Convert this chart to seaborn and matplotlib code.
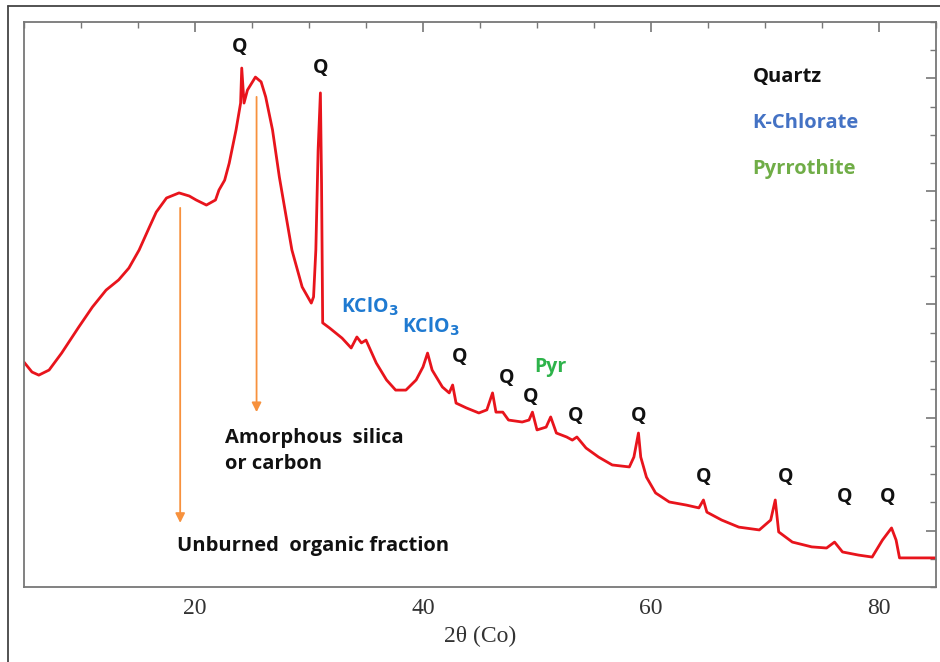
"""
XRD pattern of the burned sample (Co radiation) with phase labels
"""

import numpy as np
import pandas as pd
import matplotlib.pyplot as plt
import seaborn as sns
from matplotlib.lines import Line2D
from matplotlib.ticker import MultipleLocator, FixedLocator

# Data
two_theta = [5.0, 5.7, 6.3, 7.2, 8.3, 9.8, 11.0, 12.2, 13.3, 14.2, 15.1, 16.0,
             16.6, 17.5, 18.6, 19.5, 20.1, 21.0, 21.8, 22.1, 22.6, 23.0, 23.6,
             24.0, 24.1, 24.3, 24.6, 25.3, 25.8, 26.2, 26.8, 27.4, 28.0, 28.5,
             29.4, 30.2, 30.4, 30.6, 30.8, 31.0, 31.1, 31.2, 31.8, 32.9, 33.7,
             34.2, 34.6, 35.0, 35.9, 36.8, 37.6, 38.5, 39.4, 40.0, 40.4, 40.8,
             41.7, 42.3, 42.6, 42.9, 43.8, 44.9, 45.6, 46.1, 46.4, 47.0, 47.5,
             48.7, 49.3, 49.6, 50.0, 50.8, 51.2, 51.7, 52.6, 53.1, 53.5, 54.3,
             55.4, 56.6, 58.1, 58.5, 58.9, 59.1, 59.6, 60.4, 61.6, 63.1, 64.2,
             64.6, 64.9, 66.2, 67.7, 69.5, 70.5, 70.9, 71.2, 72.4, 74.1, 75.4,
             76.1, 76.8, 78.2, 79.4, 80.3, 81.1, 81.5, 81.8, 83.2, 85.0]
intensity = [796, 761, 750, 768, 828, 920, 991, 1051, 1087, 1129, 1193, 1274,
             1327, 1377, 1395, 1384, 1370, 1352, 1370, 1405, 1440, 1500, 1618,
             1713, 1837, 1713, 1759, 1805, 1788, 1735, 1618, 1451, 1310, 1193,
             1062, 1005, 1027, 1193, 1547, 1749, 1430, 935, 917, 881, 846,
             885, 864, 874, 793, 733, 697, 697, 733, 779, 828, 768,
             708, 687, 715, 651, 634, 616, 627, 687, 619, 619, 591,
             584, 591, 619, 556, 566, 602, 545, 531, 520, 531, 492,
             460, 432, 425, 460, 545, 460, 389, 333, 301, 290, 280,
             308, 265, 237, 212, 202, 237, 308, 195, 159, 142, 138,
             159, 124, 113, 106, 166, 209, 166, 103, 103, 103]

# peak labels
q_x = [23.9, 31.0, 43.2, 47.3, 49.4, 53.4, 58.9, 64.6, 71.8, 77.0, 80.8]
q_y = [1912, 1837, 814, 740, 673, 605, 605, 389, 389, 319, 319]
kclo3_x = [35.3, 40.7]
kclo3_y = [991, 920]
pyr_xy = (51.2, 779)

legend_labels = ["Quartz", "K-Chlorate", "Pyrrothite"]
legend_colors = ["#111111", "#4472c4", "#70ad47"]
legend_y = [1805, 1642, 1480]

# arrows: x, start y, end y
arrow_x = [18.7, 25.4]
arrow_y0 = [1342, 1735]
arrow_y1 = [227, 619]

sns.set_style("white")
plt.rcParams['font.family'] = ['Open Sans', 'DejaVu Sans']

fig = plt.figure(figsize=(9.4, 6.62), dpi=100)
ax = fig.add_axes([24 / 940, 75 / 662, 912 / 940, 565 / 662])

df = pd.DataFrame({"two_theta": two_theta, "intensity": intensity})
sns.lineplot(data=df, x="two_theta", y="intensity", ax=ax, color="#e8141c",
             linewidth=2.0, estimator=None, sort=False)

ax.set_xlim(5, 85)
ax.set_ylim(0, 2000)
ax.xaxis.set_major_locator(FixedLocator([20, 40, 60, 80]))
ax.xaxis.set_minor_locator(MultipleLocator(5))
ax.yaxis.set_major_locator(FixedLocator([200, 600, 1000, 1400, 1800]))
ax.yaxis.set_minor_locator(MultipleLocator(100))
ax.tick_params(which="both", direction="in", top=True, right=True,
               color="#777777", labelleft=False)
ax.tick_params(which="major", length=7, width=1.2, pad=8)
ax.tick_params(which="minor", length=4, width=1.0)
for lbl in ax.get_xticklabels():
    lbl.set_family("Liberation Serif")
    lbl.set_fontsize(17)
    lbl.set_color("#333333")
for s in ax.spines.values():
    s.set_color("#777777")
    s.set_linewidth(1.3)

ax.set_xlabel("2θ (Co)", family="Liberation Serif", fontsize=17,
              color="#333333", labelpad=5)
ax.set_ylabel("")

bold = dict(fontweight="bold", ha="center", va="center")
for x, y in zip(q_x, q_y):
    ax.text(x, y, "Q", fontsize=14, color="#111111", **bold)
for x, y in zip(kclo3_x, kclo3_y):
    ax.text(x, y, "KClO$_\\mathbf{3}$", fontsize=14, color="#1f7ad1", **bold)
ax.text(pyr_xy[0], pyr_xy[1], "Pyr", fontsize=14, color="#2db34a", **bold)

for lab, col, y in zip(legend_labels, legend_colors, legend_y):
    ax.text(68.9, y, lab, fontsize=14.5, color=col, fontweight="bold",
            ha="left", va="center")

for x, y0, y1 in zip(arrow_x, arrow_y0, arrow_y1):
    ax.annotate("", xy=(x, y1), xytext=(x, y0),
                arrowprops=dict(arrowstyle="-|>", color="#f7913d", lw=1.3,
                                mutation_scale=14, shrinkA=0, shrinkB=0))

ax.text(22.6, 480, "Amorphous  silica\nor carbon", fontsize=14.5,
        color="#111111", fontweight="bold", ha="left", va="center",
        linespacing=1.4)
ax.text(18.4, 145, "Unburned  organic fraction", fontsize=14.5,
        color="#111111", fontweight="bold", ha="left", va="center")

# outer frame of the picture
fig.add_artist(Line2D([8 / 940, 1], [1 - 6 / 662, 1 - 6 / 662],
                      color="#444444", lw=1.3, transform=fig.transFigure))
fig.add_artist(Line2D([8 / 940, 8 / 940], [0, 1 - 6 / 662],
                      color="#444444", lw=1.3, transform=fig.transFigure))

fig.savefig("out.png", dpi=100)
